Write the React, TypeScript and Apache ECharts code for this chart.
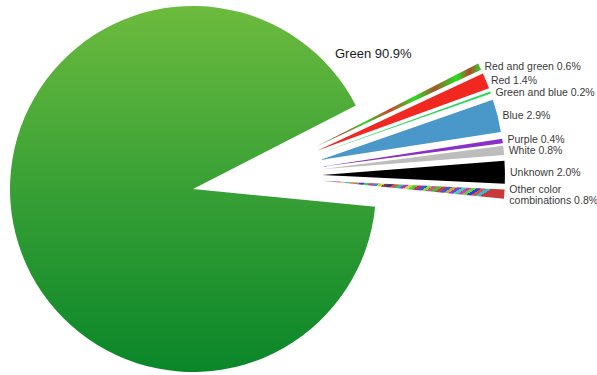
import React, { useEffect, useRef } from "react";
import * as echarts from "echarts";

// ---- data ----
const mainCategory = "Green";
const mainValue = 90.9;
const smallCategories = [
  "Red and green",
  "Red",
  "Green and blue",
  "Blue",
  "Purple",
  "White",
  "Unknown",
  "Other color combinations",
];
const smallValues = [0.6, 1.4, 0.2, 2.9, 0.4, 0.8, 2.0, 0.8];

// ---- styles ----
const greenGradient = {
  type: "linear",
  x: 0,
  y: 0,
  x2: 0,
  y2: 1,
  colorStops: [
    { offset: 0, color: "#6cbb3e" },
    { offset: 0.5, color: "#38a035" },
    { offset: 1, color: "#0a8629" },
  ],
};

const stripeStops = (colors: string[]) => {
  const stops: { offset: number; color: string }[] = [];
  const n = colors.length;
  colors.forEach((c, i) => {
    stops.push({ offset: i / n, color: c });
    stops.push({ offset: (i + 1) / n - 0.0001, color: c });
  });
  return stops;
};

const redGreenFill = {
  type: "linear",
  x: 0,
  y: 0,
  x2: 1,
  y2: 0,
  colorStops: [
    { offset: 0, color: "#2ed62e" },
    { offset: 0.15, color: "#b4422c" },
    { offset: 0.3, color: "#2ed62e" },
    { offset: 0.45, color: "#d2402a" },
    { offset: 0.6, color: "#22e022" },
    { offset: 0.72, color: "#a8552a" },
    { offset: 0.85, color: "#22e022" },
    { offset: 0.93, color: "#b04a28" },
    { offset: 1, color: "#2ed62e" },
  ],
};

const noiseColors = [
  "#d83a3a", "#3ab83a", "#4a5ad8", "#c83ac8", "#d8c83a", "#3ac8c8",
  "#e0802a", "#8a8a8a", "#5a2ad8", "#2ad85a", "#d83a8a", "#3a8ad8",
  "#c8d83a", "#8a3a3a", "#3a3a8a", "#d85a2a", "#2ac88a", "#a83ad8",
  "#d8d83a", "#3ad83a", "#d82a5a", "#2a5ad8", "#8ad83a", "#c85a8a",
  "#3ac83a", "#d83a3a", "#3a5ad8", "#d8a83a", "#8a3ad8", "#3ad8a8",
  "#d83ab8", "#5ad83a", "#3a3ad8", "#d8583a", "#3ab8d8", "#c83a3a",
];
const otherFill = {
  type: "linear",
  x: 0,
  y: 0,
  x2: 1,
  y2: 0.15,
  colorStops: stripeStops(noiseColors),
};

const smallColors: any[] = [
  redGreenFill,
  "#f0281f",
  "#2bd65a",
  "#4a98c9",
  "#8b2fc9",
  "#bdbdbd",
  "#000000",
  otherFill,
];

const FONT = "'Liberation Sans', Arial, Helvetica, sans-serif";

export default function App() {
  const ref = useRef<HTMLDivElement>(null);

  useEffect(() => {
    document.body.style.margin = "0";
    if (!ref.current) return;
    const chart = echarts.init(ref.current, null, { renderer: "svg" });
    const smallTotal = smallValues.reduce((a, b) => a + b, 0);
    const startAngle = 354.4;

    const option: any = {
      animation: false,
      backgroundColor: "#ffffff",
      series: [
        {
          type: "pie",
          center: [193, 189],
          radius: 183,
          startAngle,
          clockwise: true,
          silent: true,
          avoidLabelOverlap: false,
          labelLine: { show: false },
          label: {
            show: true,
            formatter: (p: any) => `${p.name} ${p.value}%`,
            fontFamily: FONT,
            fontSize: 13,
            color: "#1a1a1a",
          },
          labelLayout: { x: 335, y: 53, align: "left", verticalAlign: "middle" },
          data: [
            { name: mainCategory, value: mainValue, itemStyle: { color: greenGradient } },
            {
              name: "rest",
              value: smallTotal,
              itemStyle: { color: "rgba(0,0,0,0)" },
              label: { show: false },
            },
          ],
        },
        {
          type: "pie",
          center: [256, 176],
          radius: 183,
          startAngle,
          clockwise: true,
          silent: true,
          selectedMode: "multiple",
          selectedOffset: 66,
          avoidLabelOverlap: false,
          labelLine: { show: false, length: 2, length2: 0 },
          labelLayout: (params: any) =>
            params.dataIndex === 5
              ? { hideOverlap: false, dy: -2 }
              : { hideOverlap: false },
          label: {
            show: true,
            position: "outside",
            distanceToLabelLine: 3,
            overflow: "none",
            formatter: (p: any) =>
              `${String(p.name).replace("Other color ", "Other color\n")} ${p.value.toFixed(1)}%`,
            fontFamily: FONT,
            fontSize: 10.5,
            lineHeight: 11,
            color: "#3a3a3a",
          },
          data: [
            {
              name: "main",
              value: mainValue,
              itemStyle: { color: "rgba(0,0,0,0)" },
              label: { show: false },
            },
            ...smallCategories.map((name, i) => ({
              name,
              value: smallValues[i],
              selected: true,
              itemStyle: { color: smallColors[i] },
            })),
          ],
        },
      ],
    };
    chart.setOption(option);
    return () => chart.dispose();
  }, []);

  return (
    <div
      ref={ref}
      style={{ position: "absolute", left: 0, top: 0, width: 597, height: 375 }}
    />
  );
}
